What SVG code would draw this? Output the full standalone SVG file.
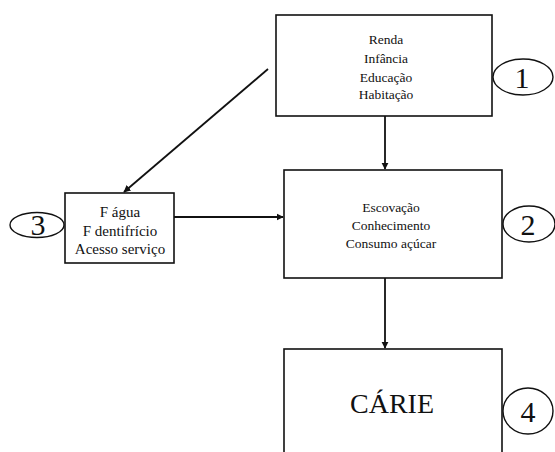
<svg xmlns="http://www.w3.org/2000/svg" width="555" height="452" viewBox="0 0 555 452">
<style>
.box{fill:#fff;stroke:#111;stroke-width:1.6}
.ell{fill:none;stroke:#111;stroke-width:1.4}
.t{font-family:"Liberation Serif","Times New Roman",serif;fill:#111;text-anchor:middle}
.s{font-size:13.5px}
.m{font-size:15px}
.n{font-size:30px}
.c{stroke:#111;stroke-width:1.8;fill:none}
</style>
<defs>
<marker id="ah" viewBox="0 0 10 10" refX="9" refY="5" markerWidth="4" markerHeight="4" orient="auto" markerUnits="strokeWidth">
<path d="M0,0 L10,5 L0,10 z" fill="#111"/>
</marker>
</defs>
<rect width="555" height="452" fill="#fff"/>
<g id="connectors">
<line class="c" x1="385" y1="116" x2="385" y2="169" marker-end="url(#ah)"/>
<line class="c" x1="268" y1="69" x2="124" y2="192" marker-end="url(#ah)"/>
<line class="c" x1="174" y1="217" x2="283" y2="217" marker-end="url(#ah)"/>
<line class="c" x1="385" y1="278" x2="385" y2="348" marker-end="url(#ah)"/>
</g>
<g id="node1">
<rect class="box" x="276" y="15" width="216" height="101"/>
<text class="t s" x="386" y="44">Renda</text>
<text class="t s" x="386" y="63">Infância</text>
<text class="t s" x="386" y="82">Educação</text>
<text class="t s" x="386" y="99">Habitação</text>
</g>
<g id="label1">
<ellipse class="ell" cx="523" cy="77" rx="30" ry="18"/>
<text class="t n" x="522" y="88">1</text>
</g>
<g id="node2">
<rect class="box" x="284" y="170" width="218" height="108"/>
<text class="t s" x="391" y="212">Escovação</text>
<text class="t s" x="391" y="230">Conhecimento</text>
<text class="t s" x="391" y="248">Consumo açúcar</text>
</g>
<g id="label2">
<ellipse class="ell" cx="529" cy="224" rx="26" ry="18"/>
<text class="t n" x="528" y="235">2</text>
</g>
<g id="node3">
<rect class="box" x="65" y="193" width="109" height="70"/>
<text class="t m" x="120" y="217">F água</text>
<text class="t m" x="120" y="236">F dentifrício</text>
<text class="t m" x="120" y="254">Acesso serviço</text>
</g>
<g id="label3">
<ellipse class="ell" cx="37" cy="225" rx="27" ry="12.5"/>
<text class="t n" x="38" y="235">3</text>
</g>
<g id="node4">
<rect class="box" x="284" y="349" width="218" height="110"/>
<text class="t" x="392" y="413" style="font-size:28px">CÁRIE</text>
</g>
<g id="label4">
<ellipse class="ell" cx="528" cy="411" rx="25" ry="23"/>
<text class="t n" x="528" y="422">4</text>
</g>
</svg>
